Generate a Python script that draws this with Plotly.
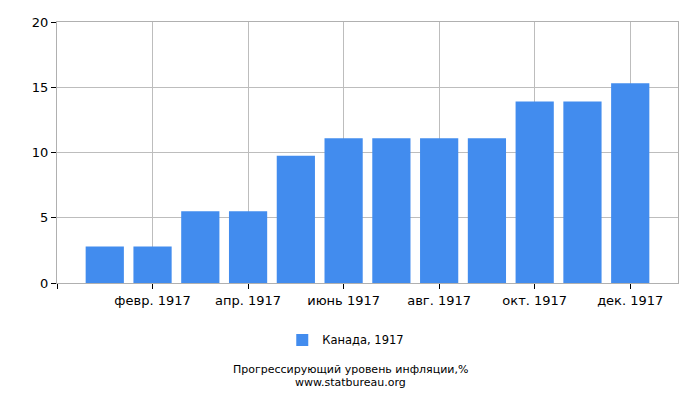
import plotly.graph_objects as go

# month index (0 = Jan 1917) and progressive inflation values
months = list(range(12))
values = [2.8, 2.8, 5.5, 5.5, 9.75, 11.1, 11.1, 11.1, 11.1, 13.9, 13.9, 15.3]

tick_pos = [-1, 1, 3, 5, 7, 9, 11]
tick_labels = ["", "февр. 1917", "апр. 1917", "июнь 1917", "авг. 1917", "окт. 1917", "дек. 1917"]

series_name = "Канада, 1917"
footer_lines = ["Прогрессирующий уровень инфляции,%", "www.statbureau.org"]

fig = go.Figure()
fig.add_trace(go.Bar(
    x=months,
    y=values,
    name=series_name,
    width=0.8,
    marker=dict(color="#428cee", line=dict(width=0)),
    showlegend=True,
))

fig.update_layout(
    width=700,
    height=400,
    margin=dict(l=57, r=22, t=22, b=117),
    plot_bgcolor="white",
    paper_bgcolor="white",
    font=dict(family="DejaVu Sans", size=13, color="#000000"),
    legend=dict(
        orientation="h",
        x=0.465, xanchor="center",
        y=-0.218, yanchor="middle",
        font=dict(size=11.5),
    ),
    annotations=[
        dict(text=footer_lines[0], x=0.472, y=-0.333, xref="paper", yref="paper",
             xanchor="center", yanchor="middle", showarrow=False,
             font=dict(size=11, color="#000000")),
        dict(text=footer_lines[1], x=0.472, y=-0.381, xref="paper", yref="paper",
             xanchor="center", yanchor="middle", showarrow=False,
             font=dict(size=11, color="#000000")),
    ],
)

fig.update_xaxes(
    range=[-1, 12],
    tickmode="array",
    tickvals=tick_pos,
    ticktext=tick_labels,
    showgrid=True,
    gridcolor="#bdbdbd",
    showline=True,
    linecolor="#b0b0b0",
    mirror=True,
    ticks="outside",
    ticklen=5,
    tickcolor="#000000",
    zeroline=False,
)
fig.update_yaxes(
    range=[0, 20],
    tickvals=[0, 5, 10, 15, 20],
    showgrid=True,
    gridcolor="#bdbdbd",
    showline=True,
    linecolor="#b0b0b0",
    mirror=True,
    ticks="outside",
    ticklen=5,
    tickcolor="#000000",
    zeroline=False,
)

# drop the default body margin so the figure sits at the window's corner
fig.write_html("out.html", config={"displayModeBar": False},
               post_script="document.body.style.margin='0';")
